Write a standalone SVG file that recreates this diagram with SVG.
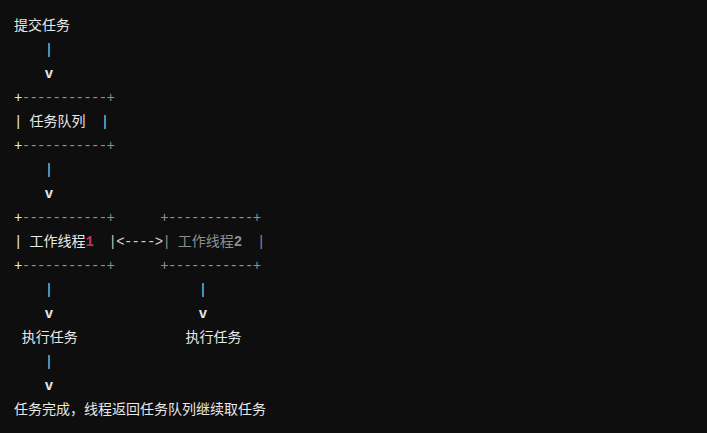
<svg xmlns="http://www.w3.org/2000/svg" width="707" height="433" viewBox="0 0 707 433">
<style>
.m{font-family:"Liberation Mono","DejaVu Sans Mono",monospace;font-size:14px;letter-spacing:-0.7px;white-space:pre}
.c{font-family:"Noto Sans CJK SC","Noto Sans",sans-serif;font-size:14px;fill:#e8e8e8}
.w{fill:#e8e8e8}
.d{fill:#8c8c8c}
.p{fill:#9fd4d8}
.v{fill:#e8e8e8;font-weight:bold}
.g{fill:#8f8f8f}
.n1{fill:#c2356a;font-weight:bold}
.ol{fill:#cfc9a0}
.ar{fill:#d4d4d4}
</style>
<rect width="707" height="433" fill="#0e0e0e"/>
<g id="submit"><text class="c" x="14" y="30">提交任务</text></g>
<g id="queue">
<text class="m" y="102"><tspan class="w" x="14">+</tspan><tspan class="d" x="21.7">-----------</tspan><tspan class="d" x="106.4">+</tspan></text>
<text class="m w" x="14" y="126">|</text>
<text class="c" x="29.4" y="126">任务队列</text>
<text class="m p" x="100.8" y="126">|</text>
<text class="m" y="150"><tspan class="w" x="14">+</tspan><tspan class="d" x="21.7">-----------</tspan><tspan class="d" x="106.4">+</tspan></text>
</g>
<g id="worker1">
<text class="m" y="222"><tspan class="w" x="14">+</tspan><tspan class="d" x="21.7">-----------</tspan><tspan class="d" x="106.4">+</tspan></text>
<text class="m w" x="14" y="246">|</text>
<text class="c" x="29.4" y="246">工作线程</text>
<text class="m n1" x="85.4" y="246">1</text>
<text class="m ol" x="108.5" y="246">|</text>
<text class="m" y="270"><tspan class="w" x="14">+</tspan><tspan class="d" x="21.7">-----------</tspan><tspan class="d" x="106.4">+</tspan></text>
</g>
<g id="worker2">
<text class="m g" y="222"><tspan x="160.3">+-----------+</tspan></text>
<text class="m g" x="162.4" y="246">|</text>
<text class="c" x="177.8" y="246" style="fill:#8f8f8f">工作线程</text>
<text class="m g" x="233.8" y="246" font-weight="bold">2</text>
<text class="m g" x="256.9" y="246">|</text>
<text class="m g" y="270"><tspan x="160.3">+-----------+</tspan></text>
</g>
<g id="exec1"><text class="c" x="21.7" y="342">执行任务</text></g>
<g id="exec2"><text class="c" x="185.5" y="342">执行任务</text></g>
<g id="done"><text class="c" x="14" y="414">任务完成，线程返回任务队列继续取任务</text></g>
<g id="connectors">
<text class="m p" x="44.8" y="54">|</text>
<text class="m v" x="44.8" y="78">v</text>
<text class="m p" x="44.8" y="174">|</text>
<text class="m v" x="44.8" y="198">v</text>
<text class="m ar" x="116.2" y="246">&lt;----&gt;</text>
<text class="m p" x="44.8" y="294">|</text>
<text class="m p" x="198.8" y="294">|</text>
<text class="m v" x="44.8" y="318">v</text>
<text class="m v" x="198.8" y="318">v</text>
<text class="m p" x="44.8" y="366">|</text>
<text class="m v" x="44.8" y="390">v</text>
</g>
</svg>
